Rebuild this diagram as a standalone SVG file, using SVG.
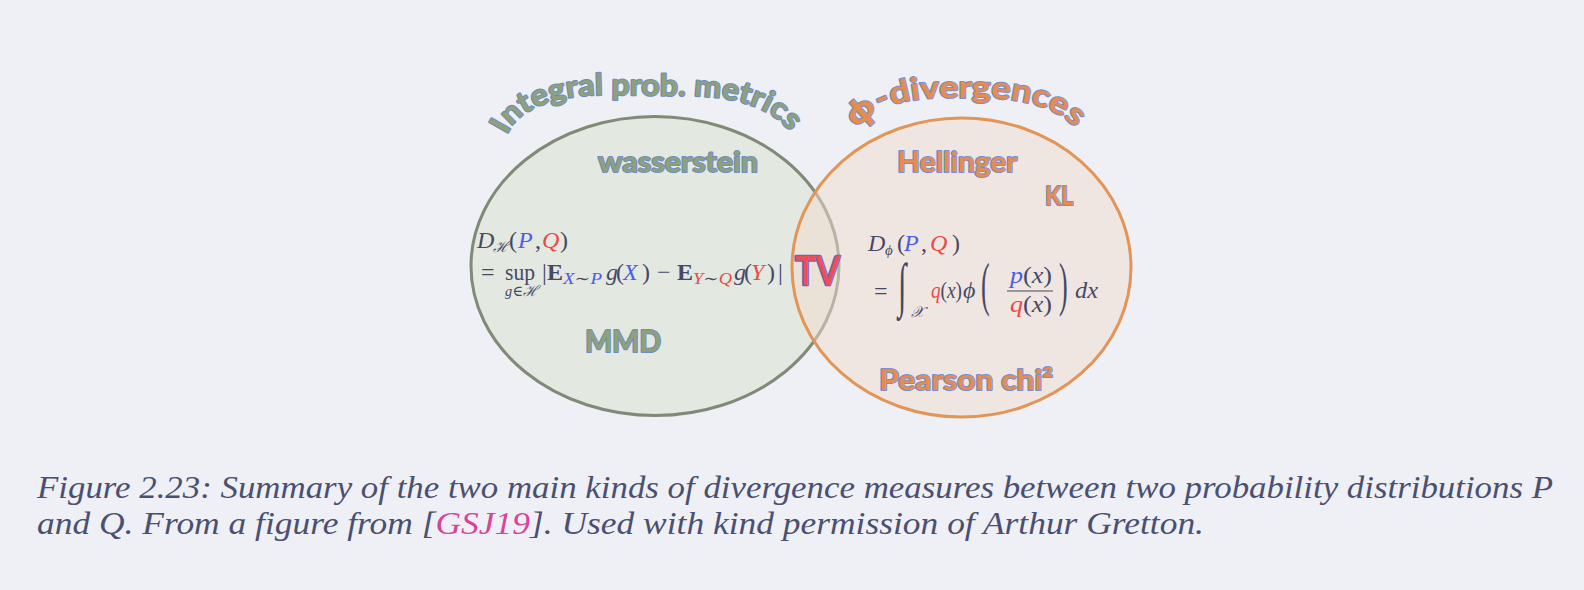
<svg xmlns="http://www.w3.org/2000/svg" width="1584" height="590" viewBox="0 0 1584 590">
<style>
.bg{fill:#eef0f5}
.lbl{font-family:Lato,"Open Sans","Liberation Sans",sans-serif;font-weight:bold;paint-order:stroke;stroke-width:2;stroke-linejoin:round}
.g{fill:#8fa07b;stroke:#6b8dc2}
.o{fill:#e38e50;stroke:#7a8ccb}
.tv{fill:#ec4f58;stroke:#5b6cd0;stroke-width:2.5}
.m{font-family:"Liberation Serif","DejaVu Serif",serif;font-size:24px;fill:#454965}
.it{font-style:italic}
.b{fill:#4a5bef}
.r{fill:#ec4848}
.cap{font-family:"Liberation Serif","DejaVu Serif",serif;font-style:italic;font-size:31px;fill:#4b4f70}
</style>
<defs>
<path id="arcL" d="M 507,135 C 517,112 547,96 602,95 L 690,96 C 745,97 775,112 792,134"/>
<path id="arcR" d="M 858,130 C 869,110 897,99 940,98 L 987,98 C 1027,99 1060,110 1076,129"/>
</defs>
<rect class="bg" x="0" y="0" width="1584" height="590"/>

<g id="ipm">
<ellipse cx="655" cy="266" rx="184" ry="149.5" fill="#e3e8e1" stroke="#7f8a77" stroke-width="3"/>
</g>
<g id="phidiv">
<ellipse cx="961.5" cy="267.5" rx="169.5" ry="149.5" fill="#f2dccd" fill-opacity="0.5" stroke="#e29556" stroke-width="3"/>
</g>

<g id="title-ipm"><text class="lbl g" font-size="30"><textPath href="#arcL" textLength="306" lengthAdjust="spacingAndGlyphs">Integral prob. metrics</textPath></text></g>
<g id="title-phi"><text class="lbl o" font-size="31"><textPath href="#arcR" textLength="234" lengthAdjust="spacingAndGlyphs"><tspan font-family="'Noto Sans','DejaVu Sans',sans-serif">ɸ</tspan>-divergences</textPath></text></g>

<g id="wasserstein"><text class="lbl g" x="598" y="172" font-size="28" textLength="160" lengthAdjust="spacingAndGlyphs">wasserstein</text></g>
<g id="mmd"><text class="lbl g" x="585" y="352" font-size="30" textLength="76" lengthAdjust="spacingAndGlyphs">MMD</text></g>
<g id="hellinger"><text class="lbl o" x="897" y="172" font-size="28" textLength="120" lengthAdjust="spacingAndGlyphs">Hellinger</text></g>
<g id="kl"><text class="lbl o" x="1045" y="205" font-size="26" textLength="28" lengthAdjust="spacingAndGlyphs">KL</text></g>
<g id="pearson"><text class="lbl o" x="879" y="390" font-size="28" textLength="174" lengthAdjust="spacingAndGlyphs">Pearson chi²</text></g>
<g id="tv"><text class="lbl tv" x="795" y="285" font-size="40" textLength="45" lengthAdjust="spacingAndGlyphs">TV</text></g>

<g id="formula-ipm" class="m">
<text x="477" y="248"><tspan class="it">D</tspan><tspan x="493" y="252" font-size="15" class="it">ℋ</tspan><tspan x="509" y="248">(</tspan><tspan x="518" class="it b">P</tspan><tspan x="535">,</tspan><tspan x="542" class="it r">Q</tspan><tspan x="560">)</tspan></text>
<text x="481" y="280">=</text>
<text x="505" y="280" textLength="30" lengthAdjust="spacingAndGlyphs">sup</text>
<text x="505" y="296" font-size="15" textLength="33" lengthAdjust="spacingAndGlyphs"><tspan class="it">g</tspan>∈<tspan class="it">ℋ</tspan></text>
<text x="542" y="280">|</text>
<text x="547" y="280" font-weight="bold">E</text>
<text x="563" y="284" font-size="16" class="it" textLength="39" lengthAdjust="spacingAndGlyphs"><tspan class="b">X</tspan>∼<tspan class="b">P</tspan></text>
<text x="606" y="280"><tspan class="it">g</tspan><tspan x="616">(</tspan><tspan x="623" class="it b">X</tspan><tspan x="642">)</tspan></text>
<text x="657" y="280">−</text>
<text x="677" y="280" font-weight="bold">E</text>
<text x="693" y="284" font-size="16" class="it" textLength="39" lengthAdjust="spacingAndGlyphs"><tspan class="r">Y</tspan>∼<tspan class="r">Q</tspan></text>
<text x="734" y="280"><tspan class="it">g</tspan><tspan x="744">(</tspan><tspan x="751" class="it r">Y</tspan><tspan x="767">)</tspan></text>
<text x="778" y="280">|</text>
</g>

<g id="formula-phi" class="m">
<text x="868" y="251"><tspan class="it">D</tspan><tspan x="885" y="255" font-size="15" class="it">ϕ</tspan><tspan x="897" y="251">(</tspan><tspan x="904" class="it b">P</tspan><tspan x="921">,</tspan><tspan x="930" class="it r">Q</tspan><tspan x="952">)</tspan></text>
<text x="874" y="299">=</text>
<text transform="translate(898,305) scale(1,2)" font-size="30" class="it">∫</text>
<text x="911" y="317" font-size="15" class="it">𝒳</text>
<text x="931" y="298" textLength="31" lengthAdjust="spacingAndGlyphs"><tspan class="it r">q</tspan>(<tspan class="it">x</tspan>)</text>
<text x="963" y="298" class="it">ϕ</text>
<text transform="translate(981,304) scale(1,2.3)" font-size="26">(</text>
<text x="1010" y="283" textLength="42" lengthAdjust="spacingAndGlyphs"><tspan class="it b">p</tspan>(<tspan class="it">x</tspan>)</text>
<line x1="1007" y1="291" x2="1053" y2="291" stroke="#454965" stroke-width="1.2"/>
<text x="1010" y="312" textLength="42" lengthAdjust="spacingAndGlyphs"><tspan class="it r">q</tspan>(<tspan class="it">x</tspan>)</text>
<text transform="translate(1059,304) scale(1,2.3)" font-size="26">)</text>
<text x="1075" y="298" class="it" textLength="23" lengthAdjust="spacingAndGlyphs">dx</text>
</g>

<g id="caption" class="cap">
<text x="37" y="498" textLength="1516" lengthAdjust="spacingAndGlyphs">Figure 2.23: Summary of the two main kinds of divergence measures between two probability distributions P</text>
<text x="37" y="534" textLength="1167" lengthAdjust="spacingAndGlyphs">and Q. From a figure from [<tspan fill="#d8449b">GSJ19</tspan>]. Used with kind permission of Arthur Gretton.</text>
</g>
</svg>
